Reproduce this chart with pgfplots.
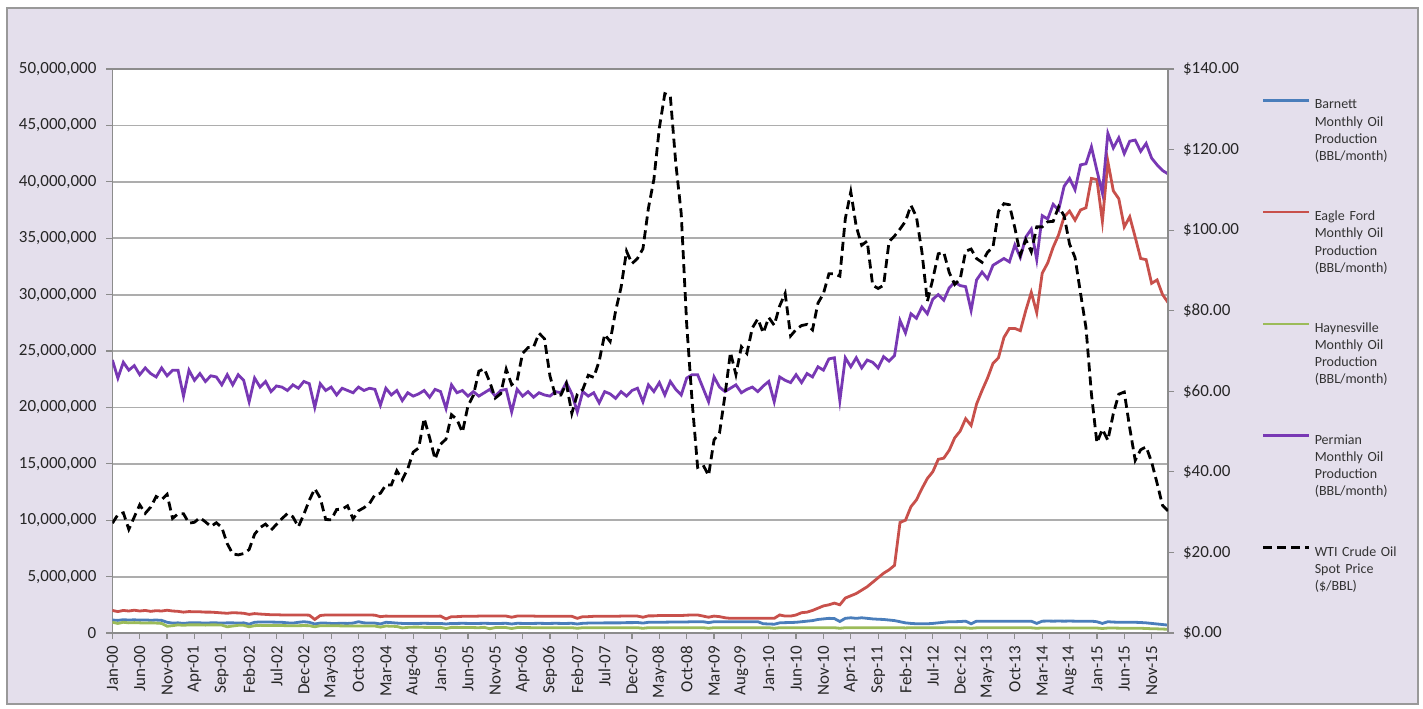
\documentclass[border=0pt]{standalone}
\usepackage{pgfplots}
\pgfplotsset{compat=1.18}
\usepackage{pgfplotstable}
\usepackage{fontspec}
\setmainfont{Carlito}
\definecolor{lav}{HTML}{E4DFEC}
\definecolor{cbar}{HTML}{4A7EBB}
\definecolor{ceag}{HTML}{C8504B}
\definecolor{chay}{HTML}{9BBB59}
\definecolor{cper}{HTML}{7838B4}
\pgfplotstableread{
i wti bar eag hay per
0 27.26 1.15 2.00 0.95 24.2
1 29.37 1.12 1.90 0.85 22.6
2 29.84 1.18 2.00 0.95 24.0
3 25.72 1.15 1.95 0.90 23.3
4 28.79 1.17 2.02 0.92 23.7
5 31.82 1.14 1.95 0.90 22.9
6 29.70 1.16 2.00 0.88 23.5
7 31.26 1.13 1.92 0.90 23.0
8 33.88 1.15 1.98 0.88 22.7
9 33.11 1.12 1.95 0.85 23.5
10 34.42 0.95 2.02 0.60 22.8
11 28.44 0.88 1.95 0.65 23.3
12 29.59 0.90 1.92 0.72 23.3
13 29.61 0.85 1.85 0.68 21.0
14 27.25 0.90 1.90 0.72 23.3
15 27.49 0.90 1.88 0.72 22.4
16 28.63 0.90 1.88 0.72 23.0
17 27.60 0.88 1.85 0.70 22.3
18 26.43 0.90 1.85 0.72 22.8
19 27.37 0.90 1.82 0.72 22.7
20 26.20 0.88 1.78 0.70 22.0
21 22.17 0.90 1.75 0.55 22.9
22 19.64 0.90 1.80 0.62 22.0
23 19.39 0.88 1.78 0.68 22.9
24 19.72 0.90 1.75 0.68 22.4
25 20.72 0.78 1.65 0.55 20.5
26 24.53 0.95 1.72 0.65 22.6
27 26.18 0.98 1.68 0.68 21.8
28 27.04 0.98 1.65 0.66 22.3
29 25.52 0.97 1.62 0.66 21.4
30 26.97 0.96 1.62 0.66 21.9
31 28.39 0.95 1.60 0.66 21.8
32 29.66 0.90 1.60 0.65 21.5
33 28.84 0.88 1.60 0.64 22.0
34 26.35 0.95 1.60 0.65 21.7
35 29.46 1.00 1.60 0.66 22.3
36 32.95 0.95 1.58 0.65 22.1
37 35.83 0.80 1.20 0.55 20.0
38 33.51 0.88 1.55 0.65 22.1
39 28.17 0.88 1.60 0.64 21.5
40 28.11 0.85 1.60 0.64 21.8
41 30.66 0.85 1.60 0.64 21.1
42 30.75 0.86 1.60 0.63 21.7
43 31.57 0.85 1.60 0.63 21.5
44 28.31 0.88 1.60 0.63 21.3
45 30.34 1.00 1.60 0.63 21.8
46 31.11 0.90 1.60 0.62 21.5
47 32.13 0.88 1.60 0.62 21.7
48 34.31 0.88 1.58 0.62 21.6
49 34.69 0.80 1.45 0.52 20.2
50 36.74 0.95 1.50 0.62 21.7
51 36.75 0.92 1.48 0.60 21.1
52 40.28 0.88 1.48 0.58 21.5
53 38.03 0.85 1.48 0.45 20.6
54 40.78 0.85 1.48 0.50 21.3
55 44.90 0.85 1.48 0.52 21.0
56 45.94 0.85 1.48 0.52 21.2
57 53.28 0.86 1.48 0.50 21.5
58 48.47 0.85 1.48 0.50 20.9
59 43.15 0.85 1.48 0.50 21.6
60 46.84 0.85 1.50 0.50 21.4
61 48.15 0.80 1.25 0.40 19.9
62 54.19 0.85 1.45 0.50 22.0
63 52.98 0.85 1.45 0.50 21.3
64 49.83 0.86 1.48 0.48 21.5
65 56.35 0.85 1.48 0.48 21.0
66 58.99 0.85 1.48 0.48 21.4
67 64.98 0.85 1.50 0.47 21.0
68 65.59 0.86 1.50 0.50 21.3
69 62.26 0.85 1.50 0.38 21.6
70 58.32 0.85 1.50 0.48 21.0
71 59.41 0.85 1.50 0.48 21.5
72 65.49 0.86 1.50 0.48 21.6
73 61.63 0.80 1.40 0.40 19.6
74 62.69 0.86 1.50 0.48 21.6
75 69.44 0.85 1.50 0.48 21.0
76 70.84 0.85 1.50 0.48 21.4
77 70.95 0.85 1.50 0.47 20.9
78 74.41 0.86 1.48 0.47 21.3
79 73.04 0.85 1.48 0.47 21.1
80 63.80 0.85 1.48 0.47 21.0
81 58.89 0.86 1.48 0.47 21.4
82 59.08 0.85 1.48 0.47 21.3
83 61.96 0.85 1.48 0.47 22.2
84 54.51 0.86 1.48 0.47 21.2
85 59.28 0.80 1.30 0.42 19.6
86 60.44 0.86 1.45 0.47 21.4
87 63.98 0.88 1.45 0.47 21.0
88 63.46 0.88 1.48 0.47 21.3
89 67.49 0.88 1.48 0.47 20.4
90 74.12 0.90 1.48 0.47 21.4
91 72.36 0.90 1.48 0.47 21.2
92 79.92 0.90 1.48 0.47 20.8
93 85.80 0.90 1.50 0.47 21.4
94 94.77 0.92 1.50 0.47 21.0
95 91.69 0.92 1.50 0.47 21.5
96 92.97 0.93 1.50 0.47 21.7
97 95.39 0.88 1.40 0.42 20.5
98 105.45 0.95 1.52 0.47 22.0
99 112.58 0.95 1.52 0.47 21.4
100 125.40 0.96 1.55 0.47 22.2
101 133.88 0.96 1.55 0.47 21.1
102 133.37 0.97 1.55 0.47 22.3
103 116.67 0.97 1.55 0.47 21.6
104 104.11 0.98 1.55 0.47 21.1
105 76.61 0.98 1.58 0.47 22.6
106 57.31 1.00 1.60 0.47 22.9
107 41.12 1.00 1.60 0.47 22.9
108 41.71 1.00 1.50 0.47 21.7
109 39.09 0.92 1.40 0.42 20.5
110 47.94 1.00 1.50 0.47 22.7
111 49.65 1.00 1.45 0.47 21.8
112 59.03 1.00 1.35 0.47 21.4
113 69.64 1.00 1.30 0.47 21.7
114 64.15 1.00 1.30 0.47 22.0
115 71.05 1.00 1.30 0.47 21.3
116 69.41 1.00 1.30 0.47 21.6
117 75.72 1.00 1.30 0.47 21.8
118 77.99 1.00 1.30 0.47 21.4
119 74.47 0.82 1.30 0.47 21.9
120 78.33 0.80 1.30 0.47 22.3
121 76.39 0.78 1.30 0.42 20.5
122 81.20 0.90 1.60 0.47 22.7
123 84.29 0.92 1.50 0.47 22.4
124 73.74 0.93 1.50 0.47 22.2
125 75.34 0.95 1.60 0.47 22.9
126 76.32 1.00 1.80 0.47 22.2
127 76.60 1.05 1.85 0.47 23.0
128 75.24 1.10 2.00 0.47 22.7
129 81.89 1.20 2.20 0.47 23.6
130 84.25 1.25 2.40 0.47 23.3
131 89.15 1.30 2.50 0.47 24.3
132 89.17 1.28 2.65 0.47 24.4
133 88.58 1.02 2.50 0.42 20.6
134 102.86 1.30 3.10 0.47 24.4
135 109.53 1.35 3.30 0.47 23.6
136 100.90 1.30 3.50 0.47 24.4
137 96.26 1.35 3.80 0.47 23.5
138 97.30 1.30 4.10 0.47 24.2
139 86.33 1.25 4.50 0.47 24.0
140 85.52 1.22 4.90 0.47 23.5
141 86.32 1.20 5.30 0.47 24.5
142 97.16 1.15 5.60 0.47 24.1
143 98.56 1.10 6.00 0.47 24.6
144 100.27 1.00 9.80 0.47 27.7
145 102.20 0.90 10.00 0.45 26.6
146 106.16 0.85 11.20 0.47 28.3
147 103.32 0.82 11.80 0.47 27.9
148 94.66 0.82 12.80 0.47 28.9
149 82.30 0.82 13.70 0.47 28.3
150 87.90 0.85 14.30 0.47 29.6
151 94.13 0.90 15.40 0.47 30.0
152 94.51 0.95 15.50 0.47 29.5
153 89.49 1.00 16.20 0.47 30.6
154 86.53 1.00 17.30 0.47 31.1
155 87.86 1.02 17.90 0.47 30.8
156 94.76 1.05 19.00 0.46 30.7
157 95.31 0.82 18.40 0.42 28.6
158 92.94 1.05 20.30 0.46 31.3
159 92.02 1.05 21.50 0.46 32.0
160 94.51 1.05 22.60 0.46 31.4
161 95.77 1.05 23.90 0.46 32.6
162 104.67 1.05 24.40 0.46 32.9
163 106.57 1.05 26.20 0.46 33.2
164 106.29 1.05 27.00 0.46 32.9
165 100.54 1.05 27.00 0.46 34.4
166 93.86 1.05 26.80 0.46 33.3
167 97.63 1.05 28.60 0.46 35.1
168 94.62 1.05 30.20 0.46 35.8
169 100.82 0.85 28.40 0.42 33.1
170 100.80 1.05 31.90 0.45 37.0
171 102.07 1.06 32.80 0.45 36.7
172 102.18 1.05 34.20 0.45 38.0
173 105.79 1.06 35.30 0.45 37.5
174 103.59 1.05 36.90 0.45 39.6
175 96.54 1.06 37.40 0.45 40.3
176 93.21 1.05 36.60 0.45 39.3
177 84.40 1.05 37.50 0.45 41.5
178 75.79 1.05 37.70 0.45 41.6
179 59.29 1.05 40.30 0.45 43.1
180 47.22 1.00 40.20 0.44 41.0
181 50.58 0.85 36.50 0.40 39.0
182 47.82 1.00 41.80 0.44 44.3
183 54.45 0.97 39.20 0.44 43.0
184 59.27 0.95 38.50 0.43 43.9
185 59.82 0.95 36.00 0.43 42.5
186 50.90 0.95 36.90 0.43 43.6
187 42.87 0.95 35.10 0.42 43.7
188 45.48 0.93 33.20 0.42 42.7
189 46.22 0.90 33.10 0.40 43.4
190 42.44 0.85 31.00 0.38 42.1
191 37.19 0.80 31.30 0.37 41.5
192 31.68 0.75 30.00 0.35 41.0
193 30.32 0.70 29.30 0.33 40.7
}\data

\pgfplotsset{
  common/.style={
    scale only axis, width=527.8pt, height=282pt,
    at={(56.2pt,37.5pt)}, anchor=south west,
    xmin=0, xmax=193,
    tick align=outside,
    major tick length=3pt,
    tick style={draw=black!45, line width=0.6pt},
    axis line style={draw=black!45, line width=0.8pt},
    tick label style={font=\fontsize{8.5}{10}\selectfont, text=black!85},
  }
}

\begin{document}
\begin{tikzpicture}
\path[fill=white] (0,0) rectangle (711.5pt,354pt);
\path[fill=lav, draw=black!40, line width=0.8pt] (3.5pt,2pt) rectangle (709pt,350pt);

\begin{axis}[common,
  ymin=0, ymax=50,
  axis background/.style={fill=white},
  ymajorgrids, major grid style={draw=black!32, line width=0.9pt},
  ytick={0,5,...,50},
  yticklabels={0,{5,000,000},{10,000,000},{15,000,000},{20,000,000},{25,000,000},{30,000,000},{35,000,000},{40,000,000},{45,000,000},{50,000,000}},
  y tick label style={xshift=-1.5pt},
  ytick pos=left,
  xtick={0,5,...,190},
  xtick pos=bottom,
  xticklabels={Jan-00,Jun-00,Nov-00,Apr-01,Sep-01,Feb-02,Jul-02,Dec-02,May-03,Oct-03,Mar-04,Aug-04,Jan-05,Jun-05,Nov-05,Apr-06,Sep-06,Feb-07,Jul-07,Dec-07,May-08,Oct-08,Mar-09,Aug-09,Jan-10,Jun-10,Nov-10,Apr-11,Sep-11,Feb-12,Jul-12,Dec-12,May-13,Oct-13,Mar-14,Aug-14,Jan-15,Jun-15,Nov-15},
  x tick label style={rotate=90, anchor=east},
]
\addplot[cbar, line width=1.4pt] table[x=i, y=bar] {\data};
\addplot[ceag, line width=1.4pt] table[x=i, y=eag] {\data};
\addplot[chay, line width=1.4pt] table[x=i, y=hay] {\data};
\addplot[cper, line width=1.4pt] table[x=i, y=per] {\data};
\end{axis}

\begin{axis}[common,
  ymin=0, ymax=140,
  axis x line=none,
  axis y line*=right,
  ytick={0,20,...,140},
  yticklabels={\$0.00,\$20.00,\$40.00,\$60.00,\$80.00,\$100.00,\$120.00,\$140.00},
  y tick label style={xshift=1pt},
  legend cell align=left,
  legend image code/.code={\draw[#1] (0pt,2.6pt) -- (23pt,2.6pt);},
  legend style={draw=none, fill=none, inner sep=0pt, outer sep=0pt,
    at={(1.089,0.946)}, anchor=north west,
    column sep=2pt, row sep=49.5pt,
    nodes={inner sep=0pt, text width=48pt, align=left, text=black!80,
      font=\fontsize{7}{8.6}\selectfont}},
]
\addlegendimage{cbar, line width=1.2pt}
\addlegendentry{Barnett\\Monthly Oil\\Production\\(BBL/month)}
\addlegendimage{ceag, line width=1.2pt}
\addlegendentry{Eagle Ford\\Monthly Oil\\Production\\(BBL/month)}
\addlegendimage{chay, line width=1.2pt}
\addlegendentry{Haynesville\\Monthly Oil\\Production\\(BBL/month)}
\addlegendimage{cper, line width=1.2pt}
\addlegendentry{Permian\\Monthly Oil\\Production\\(BBL/month)}
\addplot[black, line width=1.4pt, dash pattern=on 4.5pt off 2.5pt] table[x=i, y=wti] {\data};
\addlegendentry{WTI Crude Oil\\Spot Price\\(\$/BBL)}
\end{axis}
\end{tikzpicture}
\end{document}
